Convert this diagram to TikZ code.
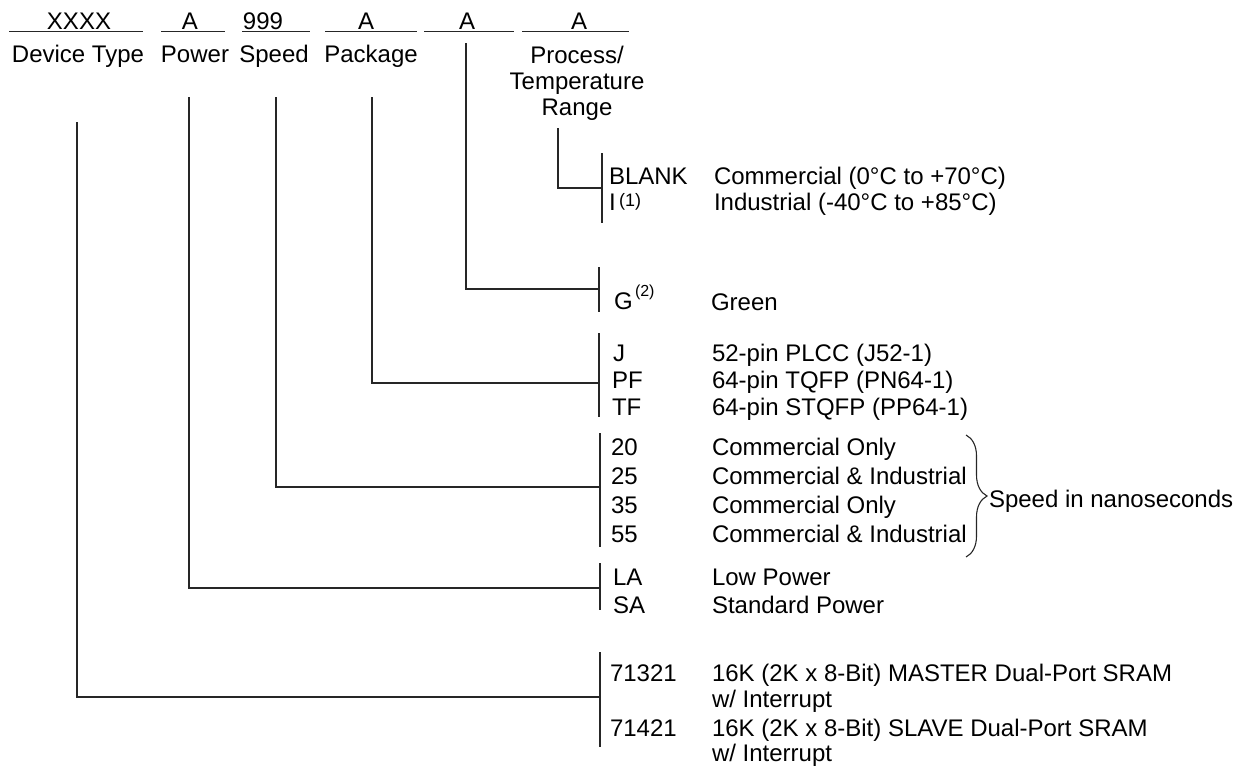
\documentclass[tikz,border=0pt]{standalone}
\usepackage{fontspec}
\setmainfont{Liberation Sans}
\usetikzlibrary{decorations.pathreplacing}
\begin{document}
\begin{tikzpicture}[x=0.5pt,y=-0.5pt,
  txt/.style={inner sep=0pt, outer sep=0pt, font=\fontsize{12}{14}\selectfont},
  lt/.style={txt, anchor=base west},
  ct/.style={txt, anchor=base},
  smalltxt/.style={lt, font=\fontsize{9}{10}\selectfont},
  tinytxt/.style={lt, font=\fontsize{8}{9}\selectfont},
  wire/.style={line width=0.55pt, draw=black!85},
  bracedeco/.style={wire, decorate, decoration={brace, amplitude=10.5pt}}
]
\useasboundingbox (0,0) rectangle (1251,766);

% header fields
\node[ct] (hx) at (79,29) {XXXX};
\node[ct] (hp) at (190,29) {A};
\node[ct] (hs) at (263,29) {999};
\node[ct] (hk) at (366,29) {A};
\node[ct] (hg) at (467,29) {A};
\node[ct] (ht) at (579,29) {A};
\draw[wire] (9,31.5) -- (143,31.5);
\draw[wire] (161,31.5) -- (225,31.5);
\draw[wire] (242,31.5) -- (310,31.5);
\draw[wire] (325,31.5) -- (417,31.5);
\draw[wire] (424,31.5) -- (514,31.5);
\draw[wire] (522,31.5) -- (629,31.5);

% field labels
\node[ct] (ldt) at (78,62) {Device Type};
\node[ct] (lp) at (195,62) {Power};
\node[ct] (ls) at (274,62) {Speed};
\node[ct] (lk) at (371,62) {Package};
\node[ct] (lt1) at (577,63) {Process/};
\node[ct] (lt2) at (577,89) {Temperature};
\node[ct] (lt3) at (577,115) {Range};

% connectors
\coordinate (procA) at (558,128);  \coordinate (procB) at (602,188);
\coordinate (procT) at (602,153);  \coordinate (procD) at (602,223);
\draw[wire] (procA) |- (procB);
\draw[wire] (procT) -- (procD);

\coordinate (grA) at (466,43);  \coordinate (grB) at (599,289);
\coordinate (grT) at (599,267); \coordinate (grD) at (599,312);
\draw[wire] (grA) |- (grB);
\draw[wire] (grT) -- (grD);

\coordinate (pkA) at (372,97);  \coordinate (pkB) at (599,383);
\coordinate (pkT) at (599,333); \coordinate (pkD) at (599,417);
\draw[wire] (pkA) |- (pkB);
\draw[wire] (pkT) -- (pkD);

\coordinate (spA) at (276,97);  \coordinate (spB) at (600,487);
\coordinate (spT) at (600,433); \coordinate (spD) at (600,547);
\draw[wire] (spA) |- (spB);
\draw[wire] (spT) -- (spD);

\coordinate (pwA) at (189,97);  \coordinate (pwB) at (600,588);
\coordinate (pwT) at (600,563); \coordinate (pwD) at (600,610);
\draw[wire] (pwA) |- (pwB);
\draw[wire] (pwT) -- (pwD);

\coordinate (dtA) at (77,122);  \coordinate (dtB) at (600,697);
\coordinate (dtT) at (600,652); \coordinate (dtD) at (600,747);
\draw[wire] (dtA) |- (dtB);
\draw[wire] (dtT) -- (dtD);

% process / temperature
\node[lt] (cb) at (609,184) {BLANK};
\node[lt] (db) at (714,184) {Commercial (0°C to +70°C)};
\node[lt] (ci) at (609,210) {I};
\node[smalltxt] (ci1) at (619,206) {(1)};
\node[lt] (di) at (714,210) {Industrial (-40°C to +85°C)};

% green
\node[lt] (cg) at (614,309) {G};
\node[tinytxt] (cg2) at (635,296) {(2)};
\node[lt] (dg) at (711,310) {Green};

% package
\node[lt] (cj) at (613,361) {J};
\node[lt] (dj) at (712,361) {52-pin PLCC (J52-1)};
\node[lt] (cpf) at (612,388) {PF};
\node[lt] (dpf) at (712,388) {64-pin TQFP (PN64-1)};
\node[lt] (ctf) at (612,415) {TF};
\node[lt] (dtf) at (712,415) {64-pin STQFP (PP64-1)};

% speed
\node[lt] (c20) at (611,455) {20};
\node[lt] (d20) at (712,455) {Commercial Only};
\node[lt] (c25) at (611,484) {25};
\node[lt] (d25) at (712,484) {Commercial \& Industrial};
\node[lt] (c35) at (611,513) {35};
\node[lt] (d35) at (712,513) {Commercial Only};
\node[lt] (c55) at (611,542) {55};
\node[lt] (d55) at (712,542) {Commercial \& Industrial};
\coordinate (brT) at (966,435); \coordinate (brB) at (966,557);
\draw[bracedeco] (brT) -- (brB);
\node[lt] (sn) at (989,507) {Speed in nanoseconds};

% power
\node[lt] (cla) at (613,585) {LA};
\node[lt] (dla) at (712,585) {Low Power};
\node[lt] (csa) at (613,613) {SA};
\node[lt] (dsa) at (712,613) {Standard Power};

% device
\node[lt] (c713) at (610,681) {71321};
\node[lt] (d713) at (712,681) {16K (2K x 8-Bit) MASTER Dual-Port SRAM};
\node[lt] (d713b) at (712,707) {w/ Interrupt};
\node[lt] (c714) at (610,736) {71421};
\node[lt] (d714) at (712,736) {16K (2K x 8-Bit) SLAVE Dual-Port SRAM};
\node[lt] (d714b) at (712,761) {w/ Interrupt};
\end{tikzpicture}
\end{document}
